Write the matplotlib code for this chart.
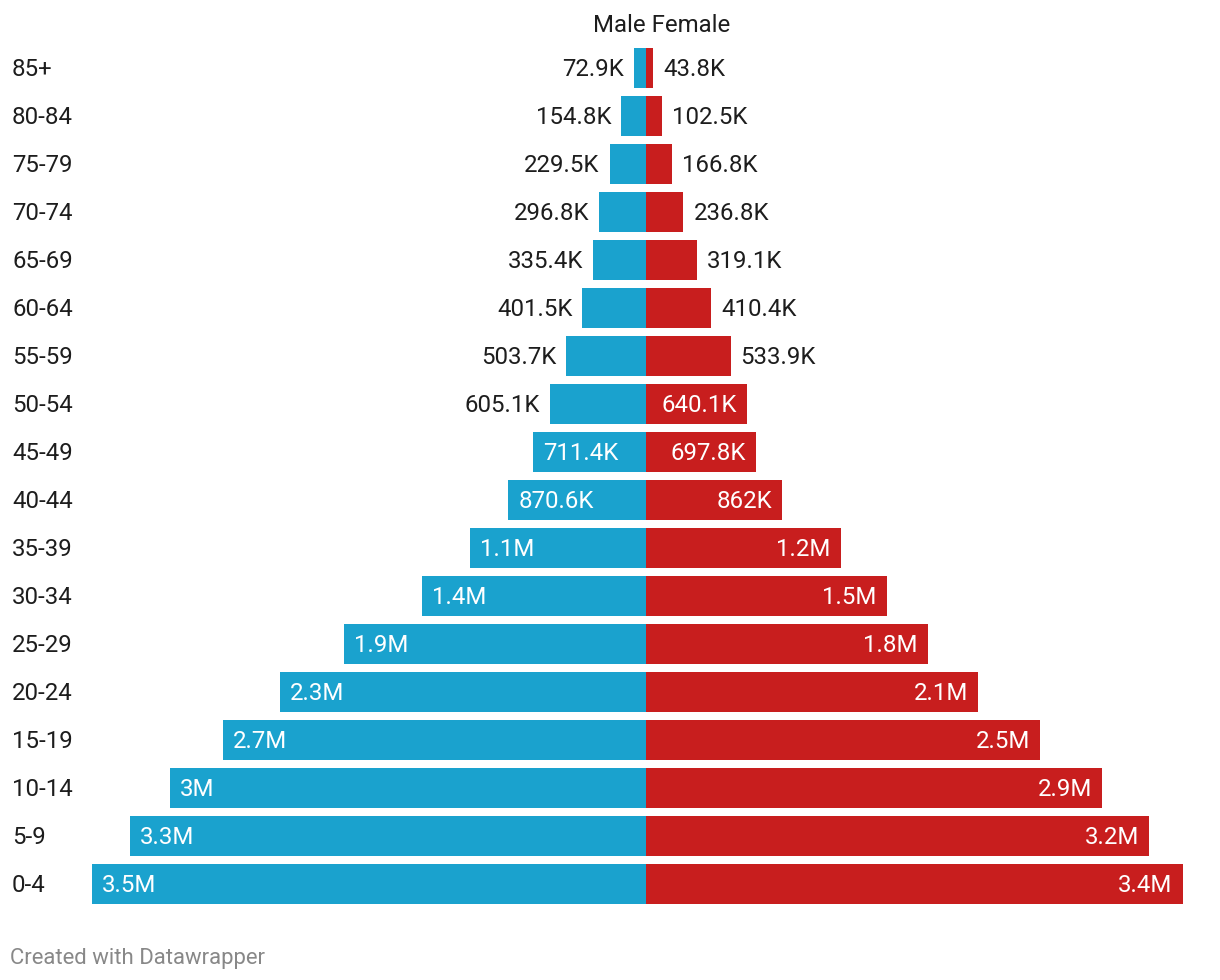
import matplotlib
matplotlib.use("Agg")
import matplotlib.pyplot as plt

plt.rcParams['font.family'] = ['Roboto', 'DejaVu Sans']

# age groups top to bottom
ages = ["85+", "80-84", "75-79", "70-74", "65-69", "60-64", "55-59", "50-54",
        "45-49", "40-44", "35-39", "30-34", "25-29", "20-24", "15-19", "10-14",
        "5-9", "0-4"]
# values in millions
male = [0.0729, 0.1548, 0.2295, 0.2968, 0.3354, 0.4015, 0.5037, 0.6051,
        0.7114, 0.8706, 1.11, 1.415, 1.91, 2.31, 2.67, 3.01, 3.26, 3.50]
female = [0.0438, 0.1025, 0.1668, 0.2368, 0.3191, 0.4104, 0.5339, 0.6401,
          0.6978, 0.862, 1.23, 1.52, 1.78, 2.10, 2.49, 2.88, 3.18, 3.39]
male_labels = ["72.9K", "154.8K", "229.5K", "296.8K", "335.4K", "401.5K", "503.7K",
               "605.1K", "711.4K", "870.6K", "1.1M", "1.4M", "1.9M", "2.3M",
               "2.7M", "3M", "3.3M", "3.5M"]
female_labels = ["43.8K", "102.5K", "166.8K", "236.8K", "319.1K", "410.4K", "533.9K",
                 "640.1K", "697.8K", "862K", "1.2M", "1.5M", "1.8M", "2.1M",
                 "2.5M", "2.9M", "3.2M", "3.4M"]

BLUE = "#1aa2ce"
RED = "#c81e1e"
W, H = 1220, 980
px_per_m = 158.3
center = 646
row0, step = 68, 48

fig = plt.figure(figsize=(W / 100, H / 100), dpi=100)
ax = fig.add_axes([0, 0, 1, 1])
ax.set_xlim(-center / px_per_m, (W - center) / px_per_m)
ax.set_ylim((H - row0) / step, -row0 / step)
ax.axis("off")

ys = range(len(ages))
bh = 40 / step
ax.barh(ys, [-m for m in male], height=bh, color=BLUE, linewidth=0)
ax.barh(ys, female, height=bh, color=RED, linewidth=0)

pad = 10 / px_per_m
fs = 17.3
dy = 1.2 / step  # nudge text down a touch
for i in ys:
    ty = i + dy
    ax.text(12 / px_per_m - center / px_per_m, ty, ages[i], ha="left", va="center",
            fontsize=fs, color="#1d1d1d")
    # male label inside if it fits
    if male[i] * px_per_m > 100:
        ax.text(-male[i] + pad, ty, male_labels[i], ha="left", va="center",
                fontsize=fs, color="white")
    else:
        ax.text(-male[i] - pad, ty, male_labels[i], ha="right", va="center",
                fontsize=fs, color="#1d1d1d")
    if female[i] * px_per_m > 95:
        ax.text(female[i] - pad, ty, female_labels[i], ha="right", va="center",
                fontsize=fs, color="white")
    else:
        ax.text(female[i] + pad, ty, female_labels[i], ha="left", va="center",
                fontsize=fs, color="#1d1d1d")

fig.text(662 / W, 1 - 26 / H, "Male Female", ha="center", va="center",
         fontsize=fs, color="#1d1d1d")
fig.text(10 / W, 1 - 958 / H, "Created with Datawrapper", ha="left", va="center",
         fontsize=15.9, color="#888888")

fig.savefig("out.png", dpi=100)
